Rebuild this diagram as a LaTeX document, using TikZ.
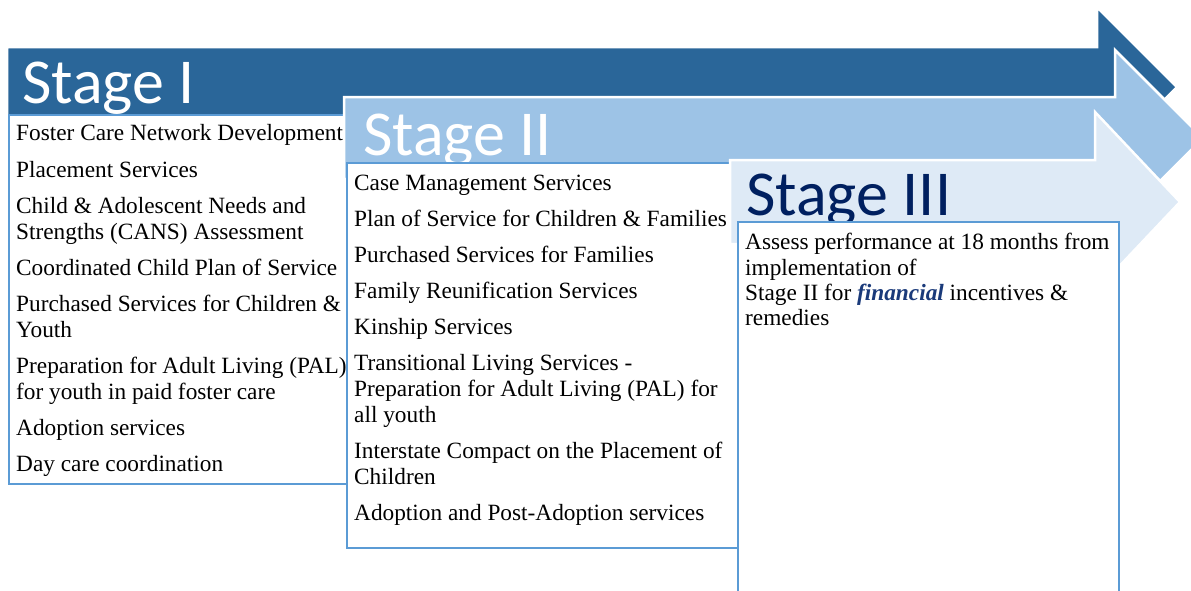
\documentclass[tikz,border=0pt]{standalone}
\usepackage{fontspec}
\setmainfont{Liberation Serif}
\newfontfamily\titlefont{Carlito}
\definecolor{arrowone}{HTML}{2A6699}
\definecolor{arrowtwo}{HTML}{9DC3E6}
\definecolor{arrowthree}{HTML}{DEEAF6}
\definecolor{boxblue}{HTML}{5B9BD5}
\definecolor{navy}{HTML}{002060}
\definecolor{finblue}{HTML}{1A3A7A}
\begin{document}
\begin{tikzpicture}[x=1pt,y=-1pt,
  arrowshape/.style={draw=white,line width=2.5pt,line join=miter},
  itembox/.style={fill=white,draw=boxblue,line width=2pt},
  item/.style={anchor=base west,inner sep=0pt,font=\fontsize{23.3}{26}\selectfont},
  stagetitle/.style={anchor=base west,inner sep=0pt,font=\titlefont\fontsize{64}{70}\selectfont}]
\useasboundingbox (0,0) rectangle (1191,590);
\clip (0,0) rectangle (1191,590);
% Stage I
\draw[arrowshape,fill=arrowone] (7,47) -- (1097,47) -- (1097,7) -- (1177,87) -- (1097,167) -- (1097,127) -- (7,127) -- cycle;
\node[stagetitle,text=white] (t1) at (22,103) {Stage I};
\draw[itembox] (9,115) rectangle (347,484);
\node[item] (a1) at (16,140) {Foster Care Network Development};
\node[item] (a2) at (16,177) {Placement Services};
\node[item] (a3) at (16,213) {Child \& Adolescent Needs and};
\node[item] (a3b) at (16,239) {Strengths (CANS) Assessment};
\node[item] (a4) at (16,275) {Coordinated Child Plan of Service};
\node[item] (a5) at (16,311) {Purchased Services for Children \&};
\node[item] (a5b) at (16,337) {Youth};
\node[item] (a6) at (16,373) {Preparation for Adult Living (PAL)};
\node[item] (a6b) at (16,399) {for youth in paid foster care};
\node[item] (a7) at (16,435) {Adoption services};
\node[item] (a8) at (16,471) {Day care coordination};
% Stage II
\draw[arrowshape,fill=arrowtwo] (344,97) -- (1115,97) -- (1115,50) -- (1203,138) -- (1115,226) -- (1115,179) -- (344,179) -- cycle;
\node[stagetitle,text=white] (t2) at (363,155) {Stage II};
\draw[itembox] (347,163) rectangle (738,548);
\node[item] (b1) at (354,190) {Case Management Services};
\node[item] (b2) at (354,226) {Plan of Service for Children \& Families};
\node[item] (b3) at (354,262) {Purchased Services for Families};
\node[item] (b4) at (354,298) {Family Reunification Services};
\node[item] (b5) at (354,334) {Kinship Services};
\node[item] (b6) at (354,370) {Transitional Living Services -};
\node[item] (b6b) at (354,396) {Preparation for Adult Living (PAL) for};
\node[item] (b6c) at (354,422) {all youth};
\node[item] (b7) at (354,458) {Interstate Compact on the Placement of};
\node[item] (b7b) at (354,484) {Children};
\node[item] (b8) at (354,520) {Adoption and Post-Adoption services};
% Stage III
\draw[arrowshape,fill=arrowthree] (730,160) -- (1095,160) -- (1095,112) -- (1180,202) -- (1095,292) -- (1095,244) -- (730,244) -- cycle;
\node[stagetitle,text=navy] (t3) at (746,215) {Stage III};
\draw[itembox] (738,222) rectangle (1119,600);
\node[item] (c1) at (745,249) {Assess performance at 18 months from};
\node[item] (c1b) at (745,275) {implementation of};
\node[item] (c1c) at (745,300) {Stage II for \textcolor{finblue}{\textbf{\textit{financial}}} incentives \&};
\node[item] (c1d) at (745,325) {remedies};
\end{tikzpicture}
\end{document}
